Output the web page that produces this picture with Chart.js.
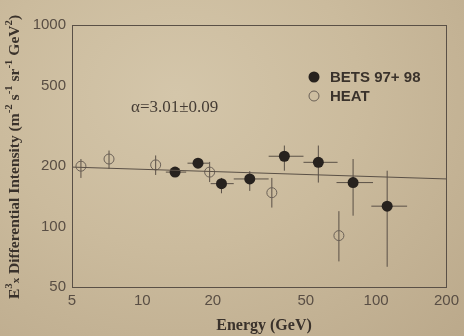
<!DOCTYPE html>
<html>
<head>
<meta charset="utf-8">
<script src="https://cdn.jsdelivr.net/npm/chart.js@4"></script>
<style>
  html, body { margin: 0; padding: 0; }
  body {
    width: 464px; height: 336px; overflow: hidden;
    background: radial-gradient(ellipse at 38% 28%, #d4c6aa 0%, #cbbb9d 45%, #bba98b 100%);
  }
  canvas { display: block; }
</style>
</head>
<body>
<canvas id="spectrum" width="464" height="336"></canvas>
<script>
// tick values
const xTicks = [5, 10, 20, 50, 100, 200];
const yTicks = [50, 100, 200, 500, 1000];

// HEAT (open circles)
const heatEnergy = [5.46, 7.2, 11.4, 19.4, 35.8, 69.3];
const heatFlux = [199, 216, 202, 186, 147, 90];
const heatFluxLo = [174, 193, 180, 166, 124, 67];
const heatFluxHi = [216, 238, 225, 209, 174, 119];

// BETS 97+98 (filled circles)
const betsEnergy = [13.8, 17.3, 21.8, 28.8, 40.5, 56.6, 79.7, 111.5];
const betsEnergyLo = [12.6, 15.6, 19.6, 24.6, 34.7, 48.9, 67.7, 95.4];
const betsEnergyHi = [15.4, 19.3, 24.6, 34.7, 48.9, 68.4, 97, 135.7];
const betsFlux = [186, 206, 163, 172, 223, 208, 165, 126];
const betsFluxLo = [178, 196, 146, 150, 189, 165, 113, 63];
const betsFluxHi = [194, 218, 174, 188, 252, 252, 216, 189];

// power-law fit
const fitEnergy = [5, 200];
const fitFlux = [197, 172];

const ink = '#3a322b';
const lineInk = '#5a5046';
const tickInk = '#594e44';

function toPoints(xs, ys) {
    return xs.map((x, i) => ({ x: x, y: ys[i] }));
}

// draws text pieces with super/subscripts along the current baseline
function drawRich(ctx, parts, size) {
    let w = 0;
    parts.forEach(p => {
        ctx.font = 'bold ' + (p.s ? size * 0.7 : size) + 'px "Liberation Serif"';
        w += ctx.measureText(p.t).width;
    });
    let x = -w / 2;
    parts.forEach(p => {
        const fs = p.s ? size * 0.7 : size;
        ctx.font = 'bold ' + fs + 'px "Liberation Serif"';
        const dy = p.s === 'up' ? -size * 0.4 : (p.s === 'down' ? size * 0.1 : 0);
        ctx.fillText(p.t, x, dy);
        x += ctx.measureText(p.t).width;
    });
}

const errorBars = {
    id: 'errorBars',
    beforeDatasetsDraw(chart) {
        const ctx = chart.ctx;
        const xs = chart.scales.x, ys = chart.scales.y;
        ctx.save();
        ctx.strokeStyle = lineInk;
        ctx.lineWidth = 1;
        ctx.beginPath();
        heatEnergy.forEach((e, i) => {
            const px = xs.getPixelForValue(e);
            ctx.moveTo(px, ys.getPixelForValue(heatFluxLo[i]));
            ctx.lineTo(px, ys.getPixelForValue(heatFluxHi[i]));
        });
        betsEnergy.forEach((e, i) => {
            const px = xs.getPixelForValue(e);
            const py = ys.getPixelForValue(betsFlux[i]);
            ctx.moveTo(px, ys.getPixelForValue(betsFluxLo[i]));
            ctx.lineTo(px, ys.getPixelForValue(betsFluxHi[i]));
            ctx.moveTo(xs.getPixelForValue(betsEnergyLo[i]), py);
            ctx.lineTo(xs.getPixelForValue(betsEnergyHi[i]), py);
        });
        ctx.stroke();
        ctx.restore();
    },
    afterDraw(chart) {
        const ctx = chart.ctx;
        const a = chart.chartArea;
        ctx.save();
        // frame
        ctx.strokeStyle = lineInk;
        ctx.lineWidth = 1;
        ctx.strokeRect(Math.round(a.left) + 0.5, Math.round(a.top) + 0.5,
            Math.round(a.right - a.left), Math.round(a.bottom - a.top));

        // legend
        ctx.fillStyle = '#27221e';
        ctx.beginPath();
        ctx.arc(314, 77, 5.5, 0, Math.PI * 2);
        ctx.fill();
        ctx.strokeStyle = '#6a6056';
        ctx.beginPath();
        ctx.arc(314, 96, 5, 0, Math.PI * 2);
        ctx.stroke();
        ctx.fillStyle = ink;
        ctx.font = 'bold 15px "Liberation Sans"';
        ctx.textBaseline = 'middle';
        ctx.textAlign = 'left';
        ctx.fillText('BETS 97+ 98', 330, 78);
        ctx.fillText('HEAT', 330, 97);

        // fit annotation
        ctx.font = '17px "Liberation Serif"';
        ctx.fillStyle = '#463d35';
        ctx.fillText('\u03b1=3.01\u00b10.09', 131, 108);

        // axis titles
        ctx.fillStyle = ink;
        ctx.textBaseline = 'middle';
        ctx.font = 'bold 16px "Liberation Serif"';
        ctx.textAlign = 'center';
        ctx.fillText('Energy (GeV)', 264, 326);

        ctx.translate(15, 157);
        ctx.rotate(-Math.PI / 2);
        ctx.textAlign = 'left';
        drawRich(ctx, [
            { t: 'E' }, { t: '3', s: 'up' }, { t: 'x', s: 'down' },
            { t: ' Differential Intensity (m' }, { t: '-2', s: 'up' },
            { t: ' s' }, { t: '-1', s: 'up' }, { t: ' sr' }, { t: '-1', s: 'up' },
            { t: ' GeV' }, { t: '2', s: 'up' }, { t: ')' }
        ], 15.5);
        ctx.restore();
    }
};

const tickFont = { family: '"Liberation Sans"', size: 15 };

new Chart(document.getElementById('spectrum'), {
    type: 'scatter',
    data: {
        datasets: [
            {
                type: 'line',
                label: 'fit',
                data: toPoints(fitEnergy, fitFlux),
                borderColor: lineInk,
                borderWidth: 1,
                pointRadius: 0,
                fill: false
            },
            {
                label: 'BETS 97+ 98',
                data: toPoints(betsEnergy, betsFlux),
                backgroundColor: '#27221e',
                borderColor: '#27221e',
                pointRadius: 5.5,
                borderWidth: 0
            },
            {
                label: 'HEAT',
                data: toPoints(heatEnergy, heatFlux),
                backgroundColor: 'rgba(0,0,0,0)',
                borderColor: '#6a6056',
                pointRadius: 5,
                borderWidth: 1
            }
        ]
    },
    options: {
        responsive: false,
        animation: false,
        devicePixelRatio: 1,
        layout: { padding: { top: 25, right: 15, left: 0, bottom: 0 } },
        plugins: {
            legend: { display: false },
            tooltip: { enabled: false }
        },
        scales: {
            x: {
                type: 'logarithmic',
                min: 5,
                max: 200,
                grid: { display: false, drawTicks: false },
                border: { color: lineInk, width: 1 },
                ticks: {
                    font: tickFont, color: tickInk, padding: 5,
                    autoSkip: false, maxRotation: 0,
                    callback: v => String(v)
                },
                afterBuildTicks: s => { s.ticks = xTicks.map(v => ({ value: v })); },
                afterFit: s => { s.height = 49; }
            },
            y: {
                type: 'logarithmic',
                min: 50,
                max: 1000,
                grid: { display: false, drawTicks: false },
                border: { color: lineInk, width: 1 },
                ticks: {
                    font: tickFont, color: tickInk, padding: 6,
                    autoSkip: false,
                    callback: v => String(v)
                },
                afterBuildTicks: s => { s.ticks = yTicks.map(v => ({ value: v })); },
                afterFit: s => { s.width = 72; }
            }
        }
    },
    plugins: [errorBars]
});
</script>
</body>
</html>
